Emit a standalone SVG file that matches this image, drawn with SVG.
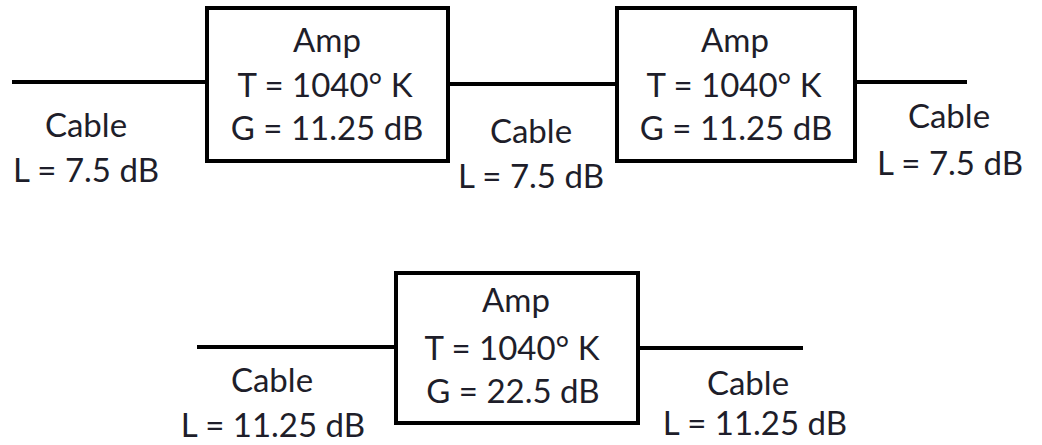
<svg xmlns="http://www.w3.org/2000/svg" width="1042" height="445" viewBox="0 0 1042 445">
<style>
.box{fill:#fff;stroke:#000;stroke-width:4}
.wire{stroke:#000;stroke-width:4;fill:none}
text{font-family:Lato,"Liberation Sans",sans-serif;font-size:33px;fill:#1e1e2a;text-anchor:middle}
</style>
<rect width="1042" height="445" fill="#fff"/>
<g id="connectors">
<line class="wire" x1="12" y1="82" x2="207" y2="82"/>
<line class="wire" x1="448" y1="84" x2="617" y2="84"/>
<line class="wire" x1="848" y1="82" x2="967" y2="82"/>
<line class="wire" x1="197" y1="347" x2="396" y2="347"/>
<line class="wire" x1="638" y1="348" x2="803" y2="348"/>
</g>
<g id="amp1">
<rect class="box" x="207" y="8" width="241" height="153"/>
<text x="327" y="52">Amp</text>
<text x="325" y="97">T = 1040° K</text>
<text x="327" y="140">G = 11.25 dB</text>
</g>
<g id="amp2">
<rect class="box" x="617" y="8" width="238" height="153"/>
<text x="735" y="52">Amp</text>
<text x="734" y="97">T = 1040° K</text>
<text x="736" y="140">G = 11.25 dB</text>
</g>
<g id="amp3">
<rect class="box" x="396" y="273" width="242" height="150"/>
<text x="516" y="312">Amp</text>
<text x="512" y="360">T = 1040° K</text>
<text x="513" y="403">G = 22.5 dB</text>
</g>
<g id="cable1">
<text x="86" y="137">Cable</text>
<text x="86" y="182">L = 7.5 dB</text>
</g>
<g id="cable2">
<text x="531" y="143">Cable</text>
<text x="531" y="188">L = 7.5 dB</text>
</g>
<g id="cable3">
<text x="949" y="128">Cable</text>
<text x="950" y="175">L = 7.5 dB</text>
</g>
<g id="cable4">
<text x="272" y="392">Cable</text>
<text x="273" y="437">L = 11.25 dB</text>
</g>
<g id="cable5">
<text x="748" y="395">Cable</text>
<text x="755" y="435">L = 11.25 dB</text>
</g>
</svg>
